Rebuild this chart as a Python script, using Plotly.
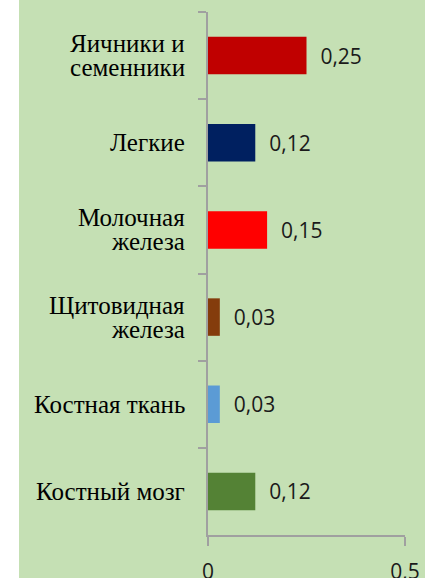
import plotly.graph_objects as go

categories = ["Яичники и<br>семенники", "Легкие", "Молочная<br>железа",
              "Щитовидная<br>железа", "Костная ткань", "Костный мозг"]
values = [0.25, 0.12, 0.15, 0.03, 0.03, 0.12]
colors = ["#C00000", "#002060", "#FF0000", "#843C0C", "#5B9BD5", "#548235"]
x_ticks = [0, 0.5]
x_tick_labels = ["0", "0,5"]

W, H = 425, 578
L, R, T, B = 208, 20, 12, 43
pw = W - L - R

fig = go.Figure()
fig.add_trace(go.Bar(
    y=categories, x=values, orientation="h",
    marker=dict(color=colors, line=dict(width=0)),
    width=0.43,
    text=values,
    texttemplate="\u00a0\u00a0%{x:.2f}",
    textposition="outside",
    constraintext="none",
    cliponaxis=False,
    textfont=dict(family="Open Sans", size=21, color="#1a1a1a"),
    hoverinfo="skip",
))

# category labels drawn as annotations (tighter line spacing than tick labels)
label_font = dict(family="Liberation Serif, Times New Roman, serif", size=25, color="black")
annotations = []
for cat in categories:
    lines = cat.split("<br>")
    n = len(lines)
    for i, line in enumerate(lines):
        shift = 0 if n == 1 else (12 if i == 0 else -12)
        annotations.append(dict(
            xref="paper", yref="y", x=0, y=cat, text=line,
            xanchor="right", yanchor="middle", xshift=-21, yshift=shift,
            showarrow=False, font=label_font,
        ))

green = "#C5E0B4"
fig.update_layout(
    width=W, height=H,
    margin=dict(l=L, r=R, t=T, b=B, pad=0, autoexpand=False),
    paper_bgcolor=green, plot_bgcolor=green,
    separators=", ",
    showlegend=False,
    annotations=annotations,
    shapes=[dict(type="rect", xref="paper", yref="paper",
                 x0=(0 - L) / pw, x1=(19 - L) / pw, y0=-1, y1=2,
                 fillcolor="white", line=dict(width=0), layer="below")],
)
fig.update_xaxes(
    range=[0, 0.5], tickvals=x_ticks, ticktext=x_tick_labels,
    automargin=False,
    showgrid=True, gridcolor="#A0A0A0", gridwidth=1.5,
    zeroline=False,
    showline=True, linecolor="#A0A0A0", linewidth=1.5,
    ticks="outside", ticklen=9, tickcolor="#A0A0A0", tickwidth=1.5,
    ticklabelstandoff=8,
    tickfont=dict(family="Open Sans", size=21, color="#1a1a1a"),
)
fig.update_yaxes(
    autorange="reversed", type="category", automargin=False,
    showline=True, linecolor="#A0A0A0", linewidth=1.5,
    ticks="outside", ticklen=8, tickcolor="#A0A0A0", tickwidth=1.5,
    tickson="boundaries", showgrid=False, showticklabels=False,
)

fig.write_html("out.html", config={"displayModeBar": False},
               post_script="document.body.style.margin='0';")
